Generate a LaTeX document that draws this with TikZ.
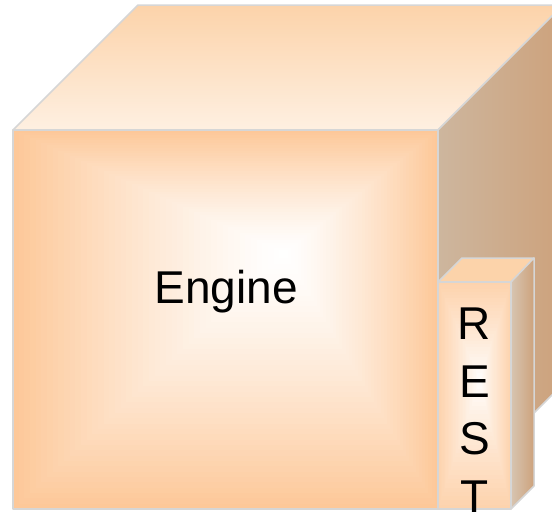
\documentclass[tikz,border=0pt]{standalone}
\usepackage{fontspec}
\setmainfont{Liberation Sans}
\usetikzlibrary{calc}

\definecolor{peach}{HTML}{FDC899}
\definecolor{peachtop}{HTML}{FCD3AA}
\definecolor{tanleft}{HTML}{CDB69E}
\definecolor{tanright}{HTML}{CDA27C}
\definecolor{edgegrey}{HTML}{D6D6D6}

\begin{document}
\begin{tikzpicture}[x=1pt, y=-1pt,
  edgeline/.style={draw=edgegrey, line width=1.5pt, line join=round},
  boxtext/.style={font=\fontsize{46}{54}\selectfont, text=black, inner sep=0pt}]
  \useasboundingbox (0,0) rectangle (552,515);
  \clip (0,0) rectangle (552,515);

  % Engine cube corners
  \coordinate (A) at (13,130);
  \coordinate (B) at (438,130);
  \coordinate (C) at (438,509);
  \coordinate (D) at (13,509);
  \coordinate (E) at (138,5);
  \coordinate (F) at (563,5);
  \coordinate (G) at (563,384);
  \coordinate (H) at (285,253);

  % Top face
  \shade[top color=peachtop, bottom color=peachtop!35!white]
    (A) -- (E) -- (F) -- (B) -- cycle;
  \draw[edgeline] (A) -- (E) -- (F) -- (B) -- cycle;

  % Right face
  \shade[left color=tanleft, right color=tanright]
    (B) -- (F) -- (G) -- (C) -- cycle;
  \draw[edgeline] (B) -- (F) -- (G) -- (C) -- cycle;

  % Front face, glowing towards H
  \foreach \i in {0,...,48} {
    \pgfmathsetmacro\t{1-\i/48}
    \pgfmathsetmacro\m{100*\t^1.3}
    \fill[peach!\m!white] ($(H)!\t!(A)$) rectangle ($(H)!\t!(C)$);
  }
  \draw[edgeline] (A) rectangle (C);

  \node[boxtext, anchor=base] (engine) at (226,303) {Engine};

  % REST box corners
  \coordinate (P) at (438,282);
  \coordinate (Q) at (511,282);
  \coordinate (R) at (511,509);
  \coordinate (S) at (438,509);
  \coordinate (T) at (462,258);
  \coordinate (U) at (534,258);
  \coordinate (V) at (534,486);
  \coordinate (W) at (480,380);

  % REST top and side
  \fill[peachtop] (P) -- (T) -- (U) -- (Q) -- cycle;
  \draw[edgeline] (P) -- (T) -- (U) -- (Q) -- cycle;
  \shade[left color=tanleft!80!white, right color=tanright]
    (Q) -- (U) -- (V) -- (R) -- cycle;
  \draw[edgeline] (Q) -- (U) -- (V) -- (R) -- cycle;

  % REST front
  \foreach \i in {0,...,30} {
    \pgfmathsetmacro\t{1-\i/30}
    \pgfmathsetmacro\m{80*\t^0.9}
    \fill[peach!\m!white] ($(W)!\t!(P)$) rectangle ($(W)!\t!(R)$);
  }
  \draw[edgeline] (P) rectangle (R);

  \foreach \ch [count=\k] in {R,E,S,T}
    \node[boxtext, anchor=base] (rest\k) at (474.5, 282+57.5*\k) {\ch};
\end{tikzpicture}
\end{document}
